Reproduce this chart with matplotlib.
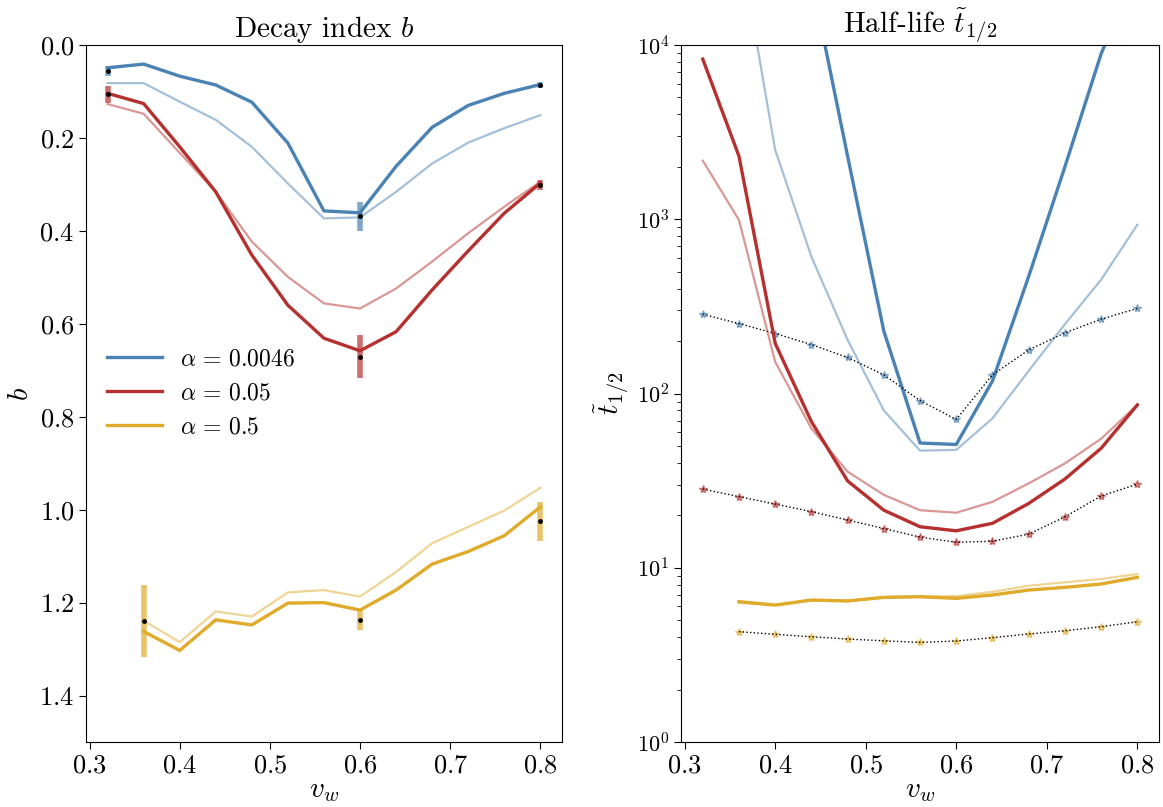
import numpy as np
import matplotlib
matplotlib.use("Agg")
import matplotlib.pyplot as plt
from matplotlib.ticker import FuncFormatter, LogLocator

plt.rcParams['mathtext.fontset'] = 'cm'
plt.rcParams['font.family'] = ['cmr10', 'DejaVu Serif']
plt.rcParams['axes.formatter.use_mathtext'] = True
plt.rcParams['axes.unicode_minus'] = False

v_w = [0.32, 0.36, 0.40, 0.44, 0.48, 0.52, 0.56, 0.60, 0.64, 0.68, 0.72, 0.76, 0.80]
v_w_y = v_w[1:]

alphas = ['0.0046', '0.05', '0.5']
colors = ['#4a82b4', '#b5302e', '#e0aa2a']

# decay index b: fit (thick) and model (thin)
b_blue = [0.049, 0.041, 0.067, 0.086, 0.123, 0.211, 0.357, 0.361, 0.261, 0.177, 0.130, 0.104, 0.085]
b_blue_thin = [0.082, 0.082, 0.122, 0.161, 0.219, 0.298, 0.373, 0.371, 0.316, 0.255, 0.210, 0.179, 0.151]
b_red = [0.104, 0.126, 0.219, 0.316, 0.452, 0.560, 0.631, 0.658, 0.617, 0.527, 0.443, 0.362, 0.297]
b_red_thin = [0.127, 0.148, 0.232, 0.316, 0.423, 0.499, 0.556, 0.567, 0.524, 0.466, 0.405, 0.348, 0.294]
b_yel = [1.262, 1.303, 1.237, 1.248, 1.201, 1.200, 1.216, 1.173, 1.117, 1.090, 1.056, 0.994]
b_yel_thin = [1.239, 1.285, 1.219, 1.230, 1.178, 1.173, 1.187, 1.134, 1.072, 1.037, 1.002, 0.953]

# measured b with errors
err_x = [[0.32, 0.60, 0.80], [0.32, 0.60, 0.80], [0.36, 0.60, 0.80]]
err_b = [[0.056, 0.369, 0.086], [0.106, 0.671, 0.301], [1.239, 1.237, 1.025]]
err_db = [[0.011, 0.031, 0.007], [0.018, 0.046, 0.011], [0.077, 0.021, 0.042]]

# half-life
t_blue = [np.nan, np.nan, np.nan, 24000, 2300, 228, 52, 51, 118, 470, 2000, 8900, 28000]
t_blue_thin = [np.nan, 40000, 2500, 610, 203, 80, 47, 47.5, 72, 135, 250, 450, 930]
t_red = [8300, 2300, 194, 69, 31.5, 21.4, 17.2, 16.3, 18.0, 23.4, 32.3, 48.5, 86]
t_red_thin = [2170, 990, 152, 63, 35.6, 26.2, 21.4, 20.7, 23.9, 30.5, 39.7, 55, 86]
t_yel = [6.39, 6.11, 6.53, 6.45, 6.76, 6.82, 6.68, 6.98, 7.45, 7.72, 8.07, 8.81]
t_yel_thin = [6.30, 6.10, 6.50, 6.45, 6.80, 6.85, 6.88, 7.28, 7.89, 8.25, 8.62, 9.21]
t_blue_star = [285, 252, 221, 191, 161, 128, 91, 71, 128, 178, 223, 267, 308]
t_red_star = [28.3, 25.6, 23.2, 21.0, 18.8, 16.8, 15.0, 14.0, 14.2, 15.6, 19.6, 25.8, 30.2]
t_yel_star = [4.30, 4.15, 4.02, 3.90, 3.81, 3.73, 3.80, 3.97, 4.17, 4.35, 4.59, 4.90]

fig = plt.figure(figsize=(11.63, 8.07), dpi=100)
ax1 = fig.add_axes([0.0739, 0.0805, 0.4093, 0.8637])
ax2 = fig.add_axes([0.5856, 0.0805, 0.411, 0.8637])

fs = 19
lw_thick, lw_thin = 2.4, 1.6

xs = [v_w, v_w, v_w_y]
b_fit = [b_blue, b_red, b_yel]
b_mod = [b_blue_thin, b_red_thin, b_yel_thin]
for i in range(3):
    ax1.plot(xs[i], b_mod[i], color=colors[i], lw=lw_thin, alpha=0.5)
    ax1.plot(xs[i], b_fit[i], color=colors[i], lw=lw_thick, label=r'$\alpha\,=\,%s$' % alphas[i])
    ax1.errorbar(err_x[i], err_b[i], yerr=err_db[i], fmt='o', ms=2.5, color='k',
                 ecolor=colors[i], elinewidth=4, capsize=0, zorder=3)

for c in ax1.containers:
    for lc in c.lines[2]:
        lc.set_alpha(0.7)

ax1.set_ylim(1.5, 0.0)
ax1.set_title(r'Decay index $b$', fontsize=fs + 2)
ax1.set_ylabel(r'$b$', fontsize=fs + 2)
ax1.set_xlabel(r'$v_w$', fontsize=fs + 2, labelpad=0)
ax1.yaxis.set_major_formatter(FuncFormatter(lambda v, p: r'$%.1f$' % v))
ax1.legend(loc='center left', bbox_to_anchor=(0.0, 0.5), frameon=False,
           fontsize=fs - 2, handlelength=2.3, borderaxespad=0.5)

t_fit = [t_blue, t_red, t_yel]
t_mod = [t_blue_thin, t_red_thin, t_yel_thin]
t_star = [t_blue_star, t_red_star, t_yel_star]
for i in range(3):
    ax2.plot(xs[i], t_mod[i], color=colors[i], lw=lw_thin, alpha=0.5)
    ax2.plot(xs[i], t_fit[i], color=colors[i], lw=lw_thick)
    ax2.plot(xs[i], t_star[i], ls='none', marker='*', ms=6, color=colors[i], alpha=0.6)
    ax2.plot(xs[i], t_star[i], ls=':', lw=1.0, color='k')

ax2.set_yscale('log')
ax2.set_ylim(1, 1e4)
ax2.set_title(r'Half-life $\tilde{t}_{1/2}$', fontsize=fs + 2)
ax2.set_ylabel(r'$\tilde{t}_{1/2}$', fontsize=fs + 2)
ax2.set_xlabel(r'$v_w$', fontsize=fs + 2, labelpad=0)
ax2.yaxis.set_minor_locator(LogLocator(base=10, subs=np.arange(2, 10), numticks=20))

for ax in (ax1, ax2):
    ax.set_xlim(0.296, 0.824)
    ax.set_xticks([0.3, 0.4, 0.5, 0.6, 0.7, 0.8])
    ax.xaxis.set_major_formatter(FuncFormatter(lambda v, p: r'$%.1f$' % v))
    ax.tick_params(labelsize=fs, direction='out', length=5)
    ax.tick_params(which='minor', length=3)
ax2.tick_params(axis='y', labelsize=fs - 3)

fig.savefig('out.png', dpi=100)
